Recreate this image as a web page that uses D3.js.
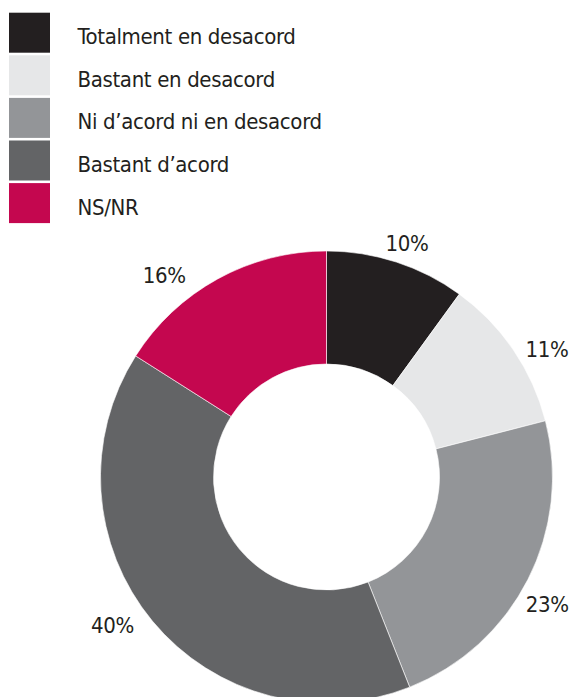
<!DOCTYPE html>
<html>
<head>
<meta charset="utf-8">
<script src="https://cdn.jsdelivr.net/npm/d3@7"></script>
<style>
  html, body { margin: 0; padding: 0; background: #fff; }
  svg { display: block; }
  text { font-family: "DejaVu Sans Condensed", "Liberation Sans Narrow", sans-serif; fill: #231f20; letter-spacing: -0.35px; }
</style>
</head>
<body>
<svg id="chart" width="570" height="697"></svg>
<script>
// dades
const categories = ["Totalment en desacord", "Bastant en desacord", "Ni d\u2019acord ni en desacord", "Bastant d\u2019acord", "NS/NR"];
const values = [10, 11, 23, 40, 16];
const colors = ["#231f20", "#e6e7e8", "#939598", "#636466", "#c4074f"];

// ajust manual de les etiquetes (graus, radi)
const labelAngleShift = [1, 4, 3, 5, -10];
const labelRadius = [247, 255, 255, 260, 259];

const W = 570, H = 697;
const cx = 326.5, cy = 477;
const outerR = 226, innerR = 113;

const svg = d3.select("#chart");

// llegenda
const legend = svg.append("g").attr("transform", "translate(9,12.7)");
const rowStep = 42.6;
const rows = legend.selectAll("g")
  .data(categories)
  .join("g")
  .attr("transform", (d, i) => `translate(0,${i * rowStep})`);
rows.append("rect")
  .attr("width", 41)
  .attr("height", 40)
  .attr("fill", (d, i) => colors[i]);
rows.append("text")
  .attr("x", 68.5)
  .attr("y", 31.5)
  .style("font-size", "22px")
  .text(d => d);

// donut
const pie = d3.pie().sort(null).value(d => d);
const arcs = pie(values);
const arc = d3.arc().innerRadius(innerR).outerRadius(outerR);

const g = svg.append("g").attr("transform", `translate(${cx},${cy})`);
g.selectAll("path")
  .data(arcs)
  .join("path")
  .attr("d", arc)
  .attr("fill", (d, i) => colors[i])
  .attr("stroke", "#fff")
  .attr("stroke-width", 0.6);

g.selectAll("text.pct")
  .data(arcs)
  .join("text")
  .attr("class", "pct")
  .attr("text-anchor", "middle")
  .attr("dy", "0.36em")
  .style("font-size", "22px")
  .attr("transform", (d, i) => {
    const a = (d.startAngle + d.endAngle) / 2 + labelAngleShift[i] * Math.PI / 180;
    const r = labelRadius[i];
    return `translate(${r * Math.sin(a)},${-r * Math.cos(a)})`;
  })
  .text(d => d.data + "%");
</script>
</body>
</html>
